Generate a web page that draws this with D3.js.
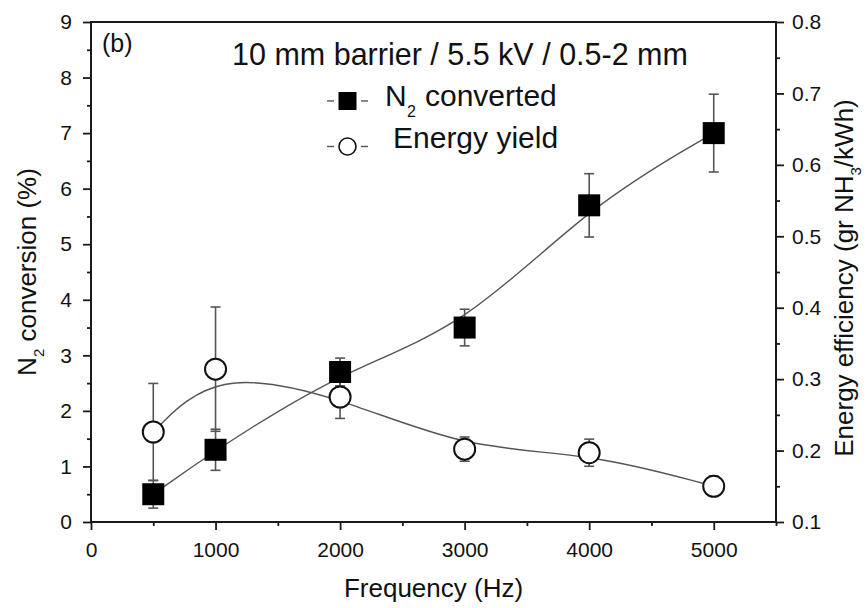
<!DOCTYPE html>
<html>
<head>
<meta charset="utf-8">
<script src="https://cdn.jsdelivr.net/npm/d3@7"></script>
<style>
  body { margin: 0; background: #fff; }
  text { font-family: "Liberation Sans", Arial, sans-serif; fill: #111; }
</style>
</head>
<body>
<svg id="chart" width="867" height="608"></svg>
<script>
// Measured series: N2 conversion (left axis) and energy yield (right axis)
const frequencies = [500, 1000, 2000, 3000, 4000, 5000];
const n2Converted = [0.5, 1.3, 2.7, 3.5, 5.7, 7.0];
const n2Error = [0.25, 0.37, 0.25, 0.33, 0.57, 0.7];
const energyYield = [0.226, 0.314, 0.275, 0.202, 0.197, 0.15];
const energyError = [0.068, 0.087, 0.03, 0.017, 0.019, 0.014];

// Axis ticks
const freqTicks = [0, 1000, 2000, 3000, 4000, 5000];
const freqMinorTicks = [500, 1500, 2500, 3500, 4500, 5500];
const conversionTicks = [0, 1, 2, 3, 4, 5, 6, 7, 8, 9];
const conversionMinorTicks = [0.5, 1.5, 2.5, 3.5, 4.5, 5.5, 6.5, 7.5, 8.5];
const efficiencyTicks = [0.1, 0.2, 0.3, 0.4, 0.5, 0.6, 0.7, 0.8];
const efficiencyMinorTicks = [0.15, 0.25, 0.35, 0.45, 0.55, 0.65, 0.75];

const n2Series = frequencies.map((f, i) => ({ f, v: n2Converted[i], e: n2Error[i] }));
const energySeries = frequencies.map((f, i) => ({ f, v: energyYield[i], e: energyError[i] }));

const plot = { left: 91, right: 776, top: 22, bottom: 522 };
const svg = d3.select("#chart");

const x = d3.scaleLinear().domain([0, 5500]).range([plot.left, plot.right]);
const yLeft = d3.scaleLinear().domain([0, 9]).range([plot.bottom, plot.top]);
const yRight = d3.scaleLinear().domain([0.1, 0.8]).range([plot.bottom, plot.top]);

const axisColor = "#1a1a1a";
const tickFont = 21;

function styleAxis(g) {
  g.select(".domain").remove();
  g.selectAll(".tick line").attr("stroke", axisColor).attr("stroke-width", 1.8);
  g.selectAll(".tick text").style("font-size", tickFont + "px").attr("fill", "#111");
}

// Bottom axis
svg.append("g").attr("transform", `translate(0,${plot.bottom})`)
  .call(d3.axisBottom(x).tickValues(freqTicks).tickSize(8).tickPadding(12).tickSizeOuter(0).tickFormat(d3.format("d")))
  .call(styleAxis);
svg.append("g").attr("transform", `translate(0,${plot.bottom})`)
  .call(d3.axisBottom(x).tickValues(freqMinorTicks).tickSize(4).tickSizeOuter(0).tickFormat(""))
  .call(styleAxis);

// Left axis
svg.append("g").attr("transform", `translate(${plot.left},0)`)
  .call(d3.axisLeft(yLeft).tickValues(conversionTicks).tickSize(8).tickPadding(11).tickSizeOuter(0).tickFormat(d3.format("d")))
  .call(styleAxis);
svg.append("g").attr("transform", `translate(${plot.left},0)`)
  .call(d3.axisLeft(yLeft).tickValues(conversionMinorTicks).tickSize(4).tickSizeOuter(0).tickFormat(""))
  .call(styleAxis);

// Right axis
svg.append("g").attr("transform", `translate(${plot.right},0)`)
  .call(d3.axisRight(yRight).tickValues(efficiencyTicks).tickSize(8).tickPadding(8).tickSizeOuter(0).tickFormat(d3.format(".1f")))
  .call(styleAxis);
svg.append("g").attr("transform", `translate(${plot.right},0)`)
  .call(d3.axisRight(yRight).tickValues(efficiencyMinorTicks).tickSize(4).tickSizeOuter(0).tickFormat(""))
  .call(styleAxis);

// Frame
svg.append("rect")
  .attr("x", plot.left).attr("y", plot.top)
  .attr("width", plot.right - plot.left).attr("height", plot.bottom - plot.top)
  .attr("fill", "none").attr("stroke", axisColor).attr("stroke-width", 2);

// Smoothed connecting curves
const lineColor = "#555";
const n2Line = d3.line().x(d => x(d.f)).y(d => yLeft(d.v)).curve(d3.curveBasis);
const energyLine = d3.line().x(d => x(d.f)).y(d => yRight(d.v)).curve(d3.curveBasis);

svg.append("path").datum(n2Series).attr("d", n2Line)
  .attr("fill", "none").attr("stroke", lineColor).attr("stroke-width", 1.4);
svg.append("path").datum(energySeries).attr("d", energyLine)
  .attr("fill", "none").attr("stroke", lineColor).attr("stroke-width", 1.4);

// Error bars
function errorBars(data, y) {
  const g = svg.append("g").attr("stroke", "#555").attr("stroke-width", 1.6);
  const cap = 5;
  data.forEach(d => {
    const cx = x(d.f), y1 = y(d.v - d.e), y2 = y(d.v + d.e);
    g.append("line").attr("x1", cx).attr("x2", cx).attr("y1", y1).attr("y2", y2);
    g.append("line").attr("x1", cx - cap).attr("x2", cx + cap).attr("y1", y1).attr("y2", y1);
    g.append("line").attr("x1", cx - cap).attr("x2", cx + cap).attr("y1", y2).attr("y2", y2);
  });
}
errorBars(n2Series, yLeft);
errorBars(energySeries, yRight);

// Markers
const sq = 22;
svg.append("g").selectAll("rect").data(n2Series).join("rect")
  .attr("x", d => x(d.f) - sq / 2).attr("y", d => yLeft(d.v) - sq / 2)
  .attr("width", sq).attr("height", sq).attr("fill", "#000");

svg.append("g").selectAll("circle").data(energySeries).join("circle")
  .attr("cx", d => x(d.f)).attr("cy", d => yRight(d.v)).attr("r", 10.5)
  .attr("fill", "#fff").attr("stroke", "#111").attr("stroke-width", 2);

// Panel tag and condition title
svg.append("text").attr("x", 102).attr("y", 52).style("font-size", "25px").text("(b)");
svg.append("text").attr("x", 232).attr("y", 65).style("font-size", "30.5px")
  .text("10 mm barrier / 5.5 kV / 0.5-2 mm");

// Legend: dash - symbol - dash, then label
const legend = svg.append("g");
function legendDashes(cy) {
  [[327, 334], [361, 368]].forEach(([a, b]) => {
    legend.append("line").attr("x1", a).attr("x2", b).attr("y1", cy).attr("y2", cy)
      .attr("stroke", lineColor).attr("stroke-width", 1.4);
  });
}
legendDashes(101);
legend.append("rect").attr("x", 338.5).attr("y", 92).attr("width", 18).attr("height", 18).attr("fill", "#000");
legendDashes(146.5);
legend.append("circle").attr("cx", 347.5).attr("cy", 146.5).attr("r", 8.5)
  .attr("fill", "#fff").attr("stroke", "#111").attr("stroke-width", 1.6);

legend.append("text").attr("x", 385).attr("y", 106).style("font-size", "30px").text("N");
legend.append("text").attr("x", 407).attr("y", 117).style("font-size", "16px").text("2");
legend.append("text").attr("x", 425).attr("y", 106).style("font-size", "30px").text("converted");
legend.append("text").attr("x", 393).attr("y", 148).style("font-size", "30px").text("Energy yield");

// Axis titles
const titleFont = 26;
svg.append("text").attr("x", (plot.left + plot.right) / 2).attr("y", 597)
  .attr("text-anchor", "middle").style("font-size", titleFont + "px").text("Frequency (Hz)");

const lt = svg.append("text").attr("transform", `translate(36,${(plot.top + plot.bottom) / 2}) rotate(-90)`)
  .attr("text-anchor", "middle").style("font-size", titleFont + "px");
lt.append("tspan").text("N");
lt.append("tspan").attr("dy", 8).style("font-size", "15px").text("2");
lt.append("tspan").attr("dy", -8).text(" conversion (%)");

const rt = svg.append("text").attr("transform", `translate(853,${(plot.top + plot.bottom) / 2 + 6}) rotate(-90)`)
  .attr("text-anchor", "middle").style("font-size", titleFont + "px");
rt.append("tspan").text("Energy efficiency (gr NH");
rt.append("tspan").attr("dy", 8).style("font-size", "15px").text("3");
rt.append("tspan").attr("dy", -8).text("/kWh)");
</script>
</body>
</html>
